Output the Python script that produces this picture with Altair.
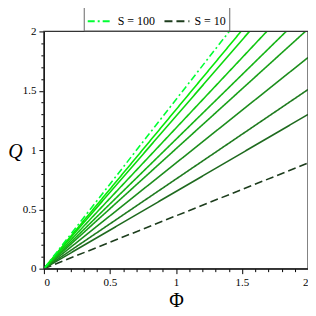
import altair as alt
import pandas as pd

# Series: S values and Q reached at Phi = 2 (lines through origin)
S_values = [10, 20, 30, 40, 50, 60, 70, 80, 90, 100]
Q_at_phi2 = [0.89, 1.30, 1.51, 1.78, 2.02, 2.18, 2.37, 2.57, 2.68, 2.85]
phi_points = [0.0, 2.0]
axis_range = [0, 2]
colors = ["#1d3d1d", "#1f6a1f", "#1f7b1f", "#1c8d1c", "#19a019", "#15b415",
          "#11c611", "#0cd80c", "#07e807", "#00ff33"]
dashes = [[8, 4], [1, 0], [1, 0], [1, 0], [1, 0], [1, 0], [1, 0], [1, 0], [1, 0], [7, 3, 2, 3]]
labels = [f"S = {s}" for s in S_values]

rows = []
for s, lab, q2 in zip(S_values, labels, Q_at_phi2):
    for p in phi_points:
        rows.append({"S": s, "label": lab, "Phi": p, "Q": q2 * p / 2.0})
df = pd.DataFrame(rows)

ticks = [round(i * 0.1, 1) for i in range(21)]
major_test = "abs(datum.value*2 - round(datum.value*2)) > 0.01"
label_expr = "abs(datum.value*2 - round(datum.value*2)) < 0.01 ? format(datum.value, '~g') : ''"

FONT = "Liberation Serif"

xscale = alt.Scale(domain=axis_range, nice=False)
yscale = alt.Scale(domain=axis_range, nice=False)

x_axis = alt.Axis(values=ticks, labelExpr=label_expr, grid=False, domain=True,
                  domainWidth=1.2, tickWidth=1,
                  tickSize={"condition": {"test": major_test, "value": 3}, "value": 5},
                  title="Φ", titleFont=FONT, titleFontSize=20, titleFontWeight="normal",
                  titlePadding=3, labelFont=FONT, labelFontSize=11, labelPadding=3,
                  domainColor="#000000", tickColor="#000000", labelColor="#000000")
y_axis = alt.Axis(values=ticks, labelExpr=label_expr, grid=False, domain=True,
                  domainWidth=1.2, tickWidth=1,
                  tickSize={"condition": {"test": major_test, "value": 3}, "value": 5},
                  title="Q", titleFont=FONT, titleFontSize=20, titleFontWeight="normal",
                  titleFontStyle="italic", titleAngle=0, titleAlign="center",
                  titleBaseline="middle", titleX=-29, titleY=120,
                  labelFont=FONT, labelFontSize=11, labelPadding=3,
                  domainColor="#000000", tickColor="#000000", labelColor="#000000")

lines = alt.Chart(df).mark_line(clip=True, strokeWidth=1.6).encode(
    x=alt.X("Phi:Q", scale=xscale, axis=x_axis, title="Φ"),
    y=alt.Y("Q:Q", scale=yscale, axis=y_axis, title="Q"),
    detail="S:N",
    color=alt.Color("label:N", scale=alt.Scale(domain=labels, range=colors),
                    legend=alt.Legend(values=["S = 100", "S = 10"], title=None,
                                      orient="none", legendX=40, legendY=-27,
                                      direction="horizontal", symbolType="stroke",
                                      symbolSize=625, symbolStrokeWidth=2,
                                      labelFont=FONT, labelFontSize=12, labelColor="black",
                                      labelOffset=4, columnPadding=5,
                                      strokeColor="#666", fillColor="white", padding=3)),
    strokeDash=alt.StrokeDash("label:N", scale=alt.Scale(domain=labels, range=dashes),
                              legend=alt.Legend(values=["S = 100", "S = 10"], title=None,
                                                orient="none", legendX=40, legendY=-27,
                                                direction="horizontal")),
    order=alt.Order("S:Q"),
)

# plot frame drawn through the scales (box around the axis range), same axes as lines
frame = alt.Chart(pd.DataFrame({"lo": [axis_range[0]], "hi": [axis_range[1]]})).mark_rect(
    filled=False, stroke="#333333", strokeWidth=1.2
).encode(
    x=alt.X("lo:Q", scale=xscale, axis=x_axis, title="Φ"),
    x2="hi:Q",
    y=alt.Y("lo:Q", scale=yscale, axis=y_axis, title="Q"),
    y2="hi:Q",
)

chart = alt.layer(lines, frame).properties(
    width=265, height=238,
    autosize=alt.AutoSizeParams(type="none"),
    padding={"left": 36, "top": 23, "right": 0, "bottom": 47},
    background="white",
).configure_view(strokeWidth=0)

chart.save("out.html", embed_options={"renderer": "svg", "actions": False})
